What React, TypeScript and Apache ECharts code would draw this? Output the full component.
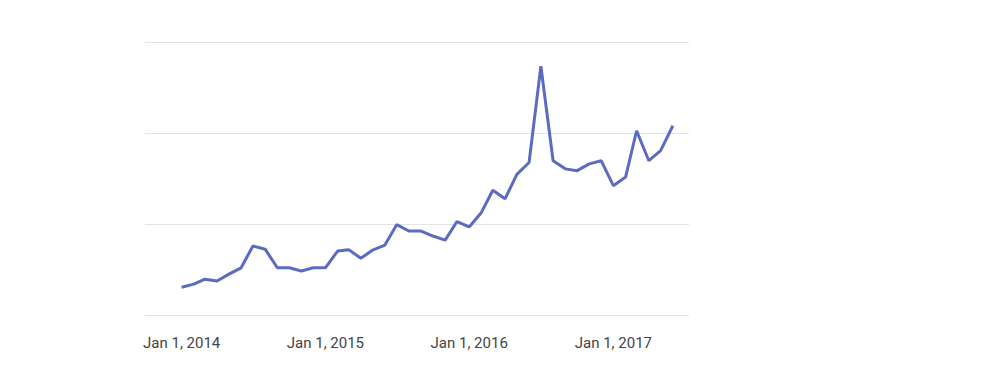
import React, { useEffect, useRef } from "react";
import * as echarts from "echarts";

// Monthly dates (first of month), Jan 2014 .. Jun 2017
const startYear = 2014;
const months: string[] = [
  "2014-01", "2014-02", "2014-03", "2014-04", "2014-05", "2014-06",
  "2014-07", "2014-08", "2014-09", "2014-10", "2014-11", "2014-12",
  "2015-01", "2015-02", "2015-03", "2015-04", "2015-05", "2015-06",
  "2015-07", "2015-08", "2015-09", "2015-10", "2015-11", "2015-12",
  "2016-01", "2016-02", "2016-03", "2016-04", "2016-05", "2016-06",
  "2016-07", "2016-08", "2016-09", "2016-10", "2016-11", "2016-12",
  "2017-01", "2017-02", "2017-03", "2017-04", "2017-05", "2017-06",
];

const values: number[] = [
  6.1, 6.8, 7.9, 7.5, 9.0, 10.4, 15.2, 14.5, 10.4, 10.4, 9.7, 10.4,
  10.4, 14.1, 14.4, 12.5, 14.3, 15.4, 19.9, 18.5, 18.5, 17.4, 16.5, 20.6,
  19.4, 22.6, 27.5, 25.6, 31.0, 33.6, 54.8, 34.0, 32.2, 31.8, 33.3, 34.0,
  28.5, 30.4, 40.6, 34.0, 36.2, 41.7,
];

const yTicks: number[] = [0, 20, 40, 60];

function toTime(m: string): number {
  const [y, mo] = m.split("-").map(Number);
  return new Date(y, mo - 1, 1).getTime();
}

export default function App() {
  const ref = useRef<HTMLDivElement>(null);

  useEffect(() => {
    document.body.style.margin = "0";
    if (!ref.current) return;
    const chart = echarts.init(ref.current, undefined, { renderer: "svg" });
    const day = 86400000;
    const data = months.map((m, i) => [toTime(m), values[i]]);
    chart.setOption({
      animation: false,
      backgroundColor: "#ffffff",
      grid: { left: 145, right: 311, top: 42.7, bottom: 77, containLabel: false },
      xAxis: {
        type: "time",
        min: new Date(2013, 8, 30).getTime(),
        max: new Date(2017, 6, 12).getTime(),
        minInterval: 365 * day,
        maxInterval: 366 * day,
        axisLine: { show: false },
        axisTick: { show: false },
        splitLine: { show: false },
        axisLabel: {
          showMinLabel: false,
          showMaxLabel: false,
          color: "#444444",
          fontFamily: "Roboto",
          fontSize: 15,
          margin: 20,
          formatter: (val: number) => {
            const d = new Date(val);
            if (d.getMonth() === 0 && d.getDate() === 1 && d.getFullYear() >= startYear) {
              return `Jan 1, ${d.getFullYear()}`;
            }
            return "";
          },
        },
      },
      yAxis: {
        type: "value",
        min: yTicks[0],
        max: yTicks[yTicks.length - 1],
        interval: yTicks[1] - yTicks[0],
        axisLine: { show: false },
        axisTick: { show: false },
        axisLabel: { show: false },
        splitLine: { lineStyle: { color: "#e3e3e3", width: 1 } },
      },
      series: [
        {
          type: "line",
          data,
          showSymbol: false,
          symbol: "none",
          lineStyle: { color: "#5c6bc0", width: 3 },
        },
      ],
    });
    return () => chart.dispose();
  }, []);

  return <div ref={ref} style={{ width: 1000, height: 392 }} />;
}
